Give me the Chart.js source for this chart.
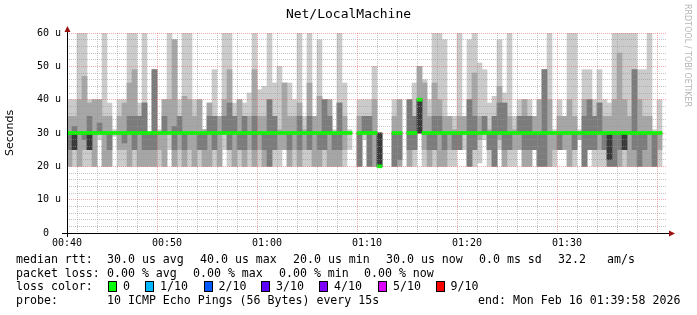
<!DOCTYPE html>
<html>
<head>
<meta charset="utf-8">
<script src="https://cdn.jsdelivr.net/npm/chart.js@4.4.1/dist/chart.umd.min.js"></script>
<style>
  html, body { margin: 0; padding: 0; background: #fff; }
  #wrap { position: relative; width: 697px; height: 315px; overflow: hidden; font-family: "DejaVu Sans Mono", monospace; color: #000; }
  #chart { position: absolute; left: 0; top: 0; }
  #title { position: absolute; top: 6px; left: 0; width: 697px; text-align: center; font-size: 13px; line-height: 16px; }
  #credit { position: absolute; left: 683px; top: 4px; writing-mode: vertical-rl; font-family: "DejaVu Sans", sans-serif; font-size: 8px; color: #b4b4b4; }
  .t { position: absolute; white-space: pre; font-size: 11.6px; line-height: 14px; }
  .box { position: absolute; width: 7px; height: 9px; border: 1px solid #000; }
</style>
</head>
<body>
<div id="wrap">
  <canvas id="chart" width="697" height="315"></canvas>
  <div id="title">Net/LocalMachine</div>
  <div id="credit">RRDTOOL / TOBI OETIKER</div>
  <div id="legend"></div>
</div>
<script>
// one bin = 30 s, starting at 00:40
const startHour = 0, startMinute = 40;
const binMinutes = 0.5;

// sorted ping rtt per bin (microseconds), outer to inner
const pingMax = [40,40,60,60,40,40,40,60,39,31, 40,40,60,60,39,60,30,49,31,40,
  60,58,40,60,60,40,40,31,39,49, 35,60,60,39,40,39,42,60,43,44,
  60,45,50,45,45,40,60,35,60,35, 58,40,40,31,60,45,31,null,40,40,
  40,50,30,null,null,40,40,null,40,45, 50,46,40,60,60,58,35,35,60,35,
  58,60,51,49,39,41,58,42,60,35, 40,40,40,35,40,49,60,31,40,35,
  60,60,31,49,49,40,49,40,39,60, 60,60,60,60,49,49,60,31,40];
const ping8 = [35,35,40,47,39,40,40,35,35,30, 35,39,45,49,35,39,30,49,30,40,
  40,58,35,41,40,35,40,31,39,35, 35,40,49,35,40,35,35,49,35,35,
  40,35,31,45,35,35,39,31,45,35, 41,40,40,30,39,35,30,null,35,35,
  35,40,30,null,null,35,40,null,40,35, 50,45,35,45,40,35,35,31,35,35,
  40,48,35,35,31,35,44,39,35,31, 35,40,35,35,40,49,40,30,35,35,
  40,35,30,40,40,35,39,35,35,40, 54,40,35,49,40,35,35,30,30];
const ping7 = [30,32,30,30,35,30,33,30,30,30, 30,30,35,35,35,39,30,49,30,35,
  30,32,35,30,30,30,30,30,35,35, 30,35,39,35,30,35,30,35,30,30,
  40,35,30,30,30,30,35,30,35,30, 30,40,35,30,39,30,30,null,30,35,
  35,30,30,null,null,30,30,null,40,35, 40,30,30,35,35,30,30,30,30,30,
  40,35,30,35,30,35,39,39,30,30, 35,35,35,30,30,49,30,30,30,30,
  30,30,30,35,40,35,39,30,30,30, 30,30,30,49,30,30,30,30,30];
const ping6 = [30,30,30,30,30,30,30,30,30,30, 30,30,30,30,30,30,30,30,30,30,
  30,30,30,30,30,30,30,30,30,30, 30,30,30,30,30,30,30,30,30,30,
  30,30,30,30,30,30,30,30,30,30, 30,30,30,30,30,30,30,null,30,30,
  30,30,30,null,null,30,30,null,30,30, 40,30,30,30,30,30,30,30,30,30,
  30,30,30,30,30,30,30,30,30,30, 30,30,30,30,30,30,30,30,30,30,
  30,30,30,30,30,30,30,30,30,30, 30,30,30,30,30,30,30,30,30];
const ping3 = [30,25,30,30,25,30,30,30,30,30, 30,30,30,30,30,30,30,30,30,30,
  30,30,30,30,30,30,30,30,30,30, 30,30,30,30,30,30,30,30,30,30,
  30,30,30,30,30,30,30,30,30,30, 30,30,30,30,30,30,30,null,30,30,
  30,30,20,null,null,30,30,null,30,30, 30,30,30,30,30,30,30,30,30,30,
  30,30,30,30,30,30,30,30,30,30, 30,30,30,30,30,30,30,30,30,30,
  30,30,30,30,30,30,30,30,22,30, 30,25,30,30,30,30,30,30,30];
const ping2 = [25,25,30,28,25,30,30,30,25,30, 30,27,30,25,30,25,25,25,30,30,
  30,25,30,25,30,30,25,25,30,25, 30,30,25,30,25,25,30,25,30,25,
  20,25,30,30,25,30,25,30,25,30, 25,25,30,25,25,30,30,null,20,30,
  20,30,20,null,null,20,22,null,25,25, 30,30,25,25,30,25,30,25,25,30,
  20,25,30,30,25,20,30,25,25,30, 30,25,25,25,20,20,30,30,25,30,
  30,25,30,20,25,25,30,25,20,20, 25,25,30,25,20,25,30,20,30];
const ping1 = [20,25,20,25,25,20,30,20,20,30, 25,25,20,25,20,20,20,20,25,20,
  30,20,25,20,25,20,25,20,20,25, 20,30,25,20,25,20,25,20,25,20,
  20,25,25,25,20,25,20,25,25,20, 20,25,20,20,20,25,30,null,20,30,
  20,20,20,null,null,20,20,null,20,25, 30,25,20,25,20,20,25,25,25,30,
  20,25,28,30,25,20,28,20,25,25, 25,20,20,25,20,20,20,25,25,25,
  20,25,28,20,25,25,25,25,20,20, 20,25,20,20,20,20,20,20,25];
const pingMin = [20,20,20,20,20,20,28,20,20,29, 20,20,20,20,20,20,20,20,20,20,
  25,20,20,20,20,20,20,20,20,20, 20,25,20,20,20,20,20,20,20,20,
  20,20,20,25,20,20,20,20,20,20, 20,20,20,20,20,20,25,null,20,28,
  20,20,20,null,null,20,20,null,20,20, 30,20,20,20,20,20,20,20,25,25,
  20,20,21,28,20,20,25,20,20,20, 25,20,20,25,20,20,20,20,25,25,
  20,20,28,20,25,20,20,20,20,20, 20,20,20,20,20,20,20,20,20];
const median = [30,30,30,30,30,30,30,30,30,30, 30,30,30,30,30,30,30,30,30,30,
  30,30,30,30,30,30,30,30,30,30, 30,30,30,30,30,30,30,30,30,30,
  30,30,30,30,30,30,30,30,30,30, 30,30,30,30,30,30,30,null,30,30,
  30,30,20,null,null,30,30,null,30,30, 40,30,30,30,30,30,30,30,30,30,
  30,30,30,30,30,30,30,30,30,30, 30,30,30,30,30,30,30,30,30,30,
  30,30,30,30,30,30,30,30,30,30, 30,30,30,30,30,30,30,30,30];

const yTicks = [0, 10, 20, 30, 40, 50, 60];
const xTicks = [0, 10, 20, 30, 40, 50];

const lossLabels = ["0", "1/10", "2/10", "3/10", "4/10", "5/10", "9/10"];
const lossColors = ["#00ff00", "#00b8ff", "#0059ff", "#5e00ff", "#7e00ff", "#dd00ff", "#ff0000"];

// legend text under the graph
const legend = document.getElementById("legend");
function put(text, x, y) {
    const d = document.createElement("div");
    d.className = "t";
    d.style.left = x + "px";
    d.style.top = y + "px";
    d.textContent = text;
    legend.appendChild(d);
}
put("median rtt:", 16, 252);
put("30.0 us avg", 107, 252);
put("40.0 us max", 200, 252);
put("20.0 us min", 293, 252);
put("30.0 us now", 386, 252);
put("0.0 ms sd", 479, 252);
put("32.2", 558, 252);
put("am/s", 607, 252);
put("packet loss:", 16, 265.5);
put("0.00 % avg", 107, 265.5);
put("0.00 % max", 193, 265.5);
put("0.00 % min", 279, 265.5);
put("0.00 % now", 364, 265.5);
put("loss color:", 16, 279);
const boxX = [108, 145, 203.5, 261, 319, 378, 435.5];
lossLabels.forEach((l, i) => {
    const b = document.createElement("div");
    b.className = "box";
    b.style.left = boxX[i] + "px";
    b.style.top = "281px";
    b.style.background = lossColors[i];
    legend.appendChild(b);
    put(l, boxX[i] + 15, 279);
});
put("probe:", 16, 293);
put("10 ICMP Echo Pings (56 Bytes) every 15s", 107, 293);
put("end: Mon Feb 16 01:39:58 2026", 478, 293);

function layer(lo, hi) {
    const pts = [];
    for (let i = 0; i < lo.length; i++) {
        if (lo[i] == null || hi[i] == null) continue;
        pts.push({ x: i * binMinutes + binMinutes / 2, y: [lo[i], hi[i]] });
    }
    return pts;
}

const smoke = [
    { lo: pingMin, hi: pingMax, color: "#cbcbcb" },
    { lo: ping1, hi: ping8, color: "#a6a6a6" },
    { lo: ping2, hi: ping7, color: "#7c7c7c" },
    { lo: ping3, hi: ping6, color: "#3a3a3a" }
];

const datasets = smoke.map((s, k) => ({
    data: layer(s.lo, s.hi),
    backgroundColor: s.color,
    order: 10 - k
}));
datasets.push({
    data: layer(median.map(m => m == null ? null : m - 0.45), median.map(m => m == null ? null : m + 0.45)),
    backgroundColor: "#00ff00",
    order: 0
});

function timeLabel(v) {
    const t = startHour * 60 + startMinute + v;
    const h = Math.floor(t / 60), m = t % 60;
    return String(h).padStart(2, "0") + ":" + String(m).padStart(2, "0");
}

const axesPlugin = {
    id: "axes",
    afterDraw(chart) {
        const { ctx, chartArea: a } = chart;
        ctx.save();
        ctx.strokeStyle = "#000";
        ctx.lineWidth = 1;
        ctx.beginPath();
        ctx.moveTo(a.left - 5, a.bottom + 0.5);
        ctx.lineTo(a.right + 4, a.bottom + 0.5);
        ctx.moveTo(a.left + 0.5, a.bottom + 4);
        ctx.lineTo(a.left + 0.5, a.top - 3);
        ctx.stroke();
        ctx.fillStyle = "#9b1010";
        ctx.beginPath();
        ctx.moveTo(a.left + 0.5, a.top - 7);
        ctx.lineTo(a.left - 2.5, a.top - 1);
        ctx.lineTo(a.left + 3.5, a.top - 1);
        ctx.fill();
        ctx.beginPath();
        ctx.moveTo(a.right + 8, a.bottom + 0.5);
        ctx.lineTo(a.right + 2, a.bottom - 2.5);
        ctx.lineTo(a.right + 2, a.bottom + 3.5);
        ctx.fill();
        ctx.restore();
    }
};

function gridColor(c) {
    if (!c.tick) return "rgba(0,0,0,0)";
    return c.tick.value % 10 === 0 ? "rgba(235,90,90,0.5)" : "rgba(150,150,150,0.55)";
}

new Chart(document.getElementById("chart"), {
    type: "bar",
    data: { datasets },
    plugins: [axesPlugin],
    options: {
        responsive: false,
        animation: false,
        events: [],
        layout: { padding: { left: 0, right: 30, top: 33, bottom: 0 } },
        datasets: {
            bar: { grouped: false, barPercentage: 1, categoryPercentage: 1, borderWidth: 0 }
        },
        plugins: { legend: { display: false }, tooltip: { enabled: false }, title: { display: false } },
        scales: {
            x: {
                type: "linear",
                min: 0,
                max: 60,
                offset: false,
                afterFit: s => { s.height = 82; },
                grid: { color: gridColor, drawTicks: false, z: 1 },
                border: { display: false, dash: [1, 1] },
                ticks: {
                    stepSize: 2,
                    autoSkip: false,
                    maxRotation: 0,
                    padding: 4,
                    color: "#000",
                    font: { family: "DejaVu Sans Mono", size: 10 },
                    callback: v => xTicks.includes(v) ? timeLabel(v) : ""
                }
            },
            y: {
                min: 0,
                max: 60,
                afterFit: s => { s.width = 67; },
                grid: { color: gridColor, drawTicks: false, z: 1 },
                border: { display: false, dash: [1, 1] },
                title: { display: true, text: "Seconds", color: "#000", font: { family: "DejaVu Sans", size: 11 }, padding: { top: 4, bottom: 0 } },
                ticks: {
                    stepSize: 2,
                    autoSkip: false,
                    padding: 6,
                    color: "#000",
                    font: { family: "DejaVu Sans Mono", size: 10 },
                    callback: v => yTicks.includes(v) ? (v === 0 ? "0  " : v + " u") : ""
                }
            }
        }
    }
});
</script>
</body>
</html>
